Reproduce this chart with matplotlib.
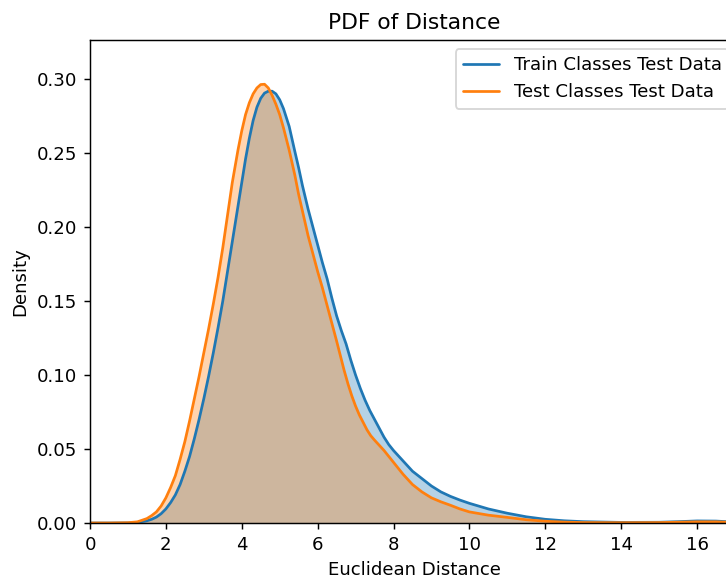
import matplotlib
matplotlib.use("Agg")
import matplotlib.pyplot as plt
import numpy as np

# Train Classes Test Data (blue)
train_x = [0.0, 0.5, 1.0, 1.25, 1.5, 1.625, 1.75, 1.875, 2.0, 2.125, 2.25, 2.375, 2.5,
           2.625, 2.75, 2.875, 3.0, 3.125, 3.25, 3.375, 3.5, 3.625, 3.75, 3.9, 4.0,
           4.1, 4.2, 4.3, 4.4, 4.5, 4.6, 4.7, 4.8, 4.9, 5.0, 5.1, 5.25, 5.4, 5.5, 5.6,
           5.75, 5.875, 6.0, 6.125, 6.25, 6.375, 6.5, 6.625, 6.75, 6.875, 7.0, 7.125,
           7.25, 7.375, 7.5, 7.625, 7.75, 7.875, 8.0, 8.25, 8.5, 8.75, 9.0, 9.25, 9.5,
           9.75, 10.0, 10.5, 11.0, 11.5, 12.0, 12.5, 13.0, 14.0, 15.0, 15.5, 16.0,
           16.5, 17.0, 17.1]
train_y = [0.0, 0.0, 0.0001, 0.0004, 0.0015, 0.0025, 0.004, 0.0063, 0.0095, 0.0138,
           0.019, 0.026, 0.035, 0.045, 0.057, 0.070, 0.084, 0.099, 0.115, 0.132, 0.150,
           0.170, 0.190, 0.214, 0.230, 0.246, 0.260, 0.272, 0.281, 0.287, 0.2905,
           0.2918, 0.2918, 0.290, 0.286, 0.280, 0.268, 0.251, 0.240, 0.228, 0.212,
           0.200, 0.188, 0.176, 0.165, 0.152, 0.140, 0.130, 0.121, 0.110, 0.100, 0.091,
           0.083, 0.076, 0.070, 0.064, 0.058, 0.053, 0.049, 0.042, 0.035, 0.030, 0.025,
           0.021, 0.018, 0.0155, 0.0133, 0.0095, 0.0066, 0.0042, 0.0025, 0.0015,
           0.0009, 0.0004, 0.0005, 0.0009, 0.0014, 0.0013, 0.0006, 0.0005]

# Test Classes Test Data (orange)
test_x = [0.0, 0.5, 1.0, 1.25, 1.5, 1.625, 1.75, 1.875, 2.0, 2.125, 2.25, 2.375, 2.5,
          2.625, 2.75, 2.875, 3.0, 3.125, 3.25, 3.375, 3.5, 3.625, 3.75, 3.9, 4.0, 4.1,
          4.2, 4.3, 4.4, 4.5, 4.6, 4.7, 4.8, 4.9, 5.0, 5.1, 5.25, 5.4, 5.5, 5.625,
          5.75, 5.875, 6.0, 6.125, 6.25, 6.375, 6.5, 6.6, 6.7, 6.8, 6.9, 7.0, 7.1,
          7.2, 7.3, 7.4, 7.5, 7.75, 7.875, 8.0, 8.125, 8.25, 8.375, 8.5, 8.75, 9.0,
          9.25, 9.5, 9.75, 10.0, 10.5, 11.0, 11.5, 12.0, 12.5, 13.0, 14.0, 15.0,
          16.0, 16.5, 17.0, 17.1]
test_y = [0.0, 0.0, 0.0002, 0.0008, 0.003, 0.005, 0.0075, 0.0115, 0.017, 0.024, 0.032,
          0.043, 0.055, 0.069, 0.084, 0.099, 0.115, 0.131, 0.148, 0.166, 0.186, 0.208,
          0.230, 0.252, 0.265, 0.276, 0.284, 0.290, 0.294, 0.2963, 0.2965, 0.294,
          0.289, 0.283, 0.276, 0.267, 0.252, 0.235, 0.222, 0.208, 0.194, 0.182, 0.170,
          0.159, 0.147, 0.135, 0.123, 0.113, 0.103, 0.094, 0.086, 0.079, 0.073, 0.068,
          0.063, 0.059, 0.056, 0.049, 0.045, 0.041, 0.037, 0.033, 0.0295, 0.026,
          0.021, 0.017, 0.0143, 0.012, 0.0095, 0.0075, 0.0053, 0.0038, 0.0022, 0.0012,
          0.0006, 0.0003, 0.0002, 0.0003, 0.0008, 0.0008, 0.0004, 0.0003]

series = [("Train Classes Test Data", train_x, train_y, "#1f77b4"),
          ("Test Classes Test Data", test_x, test_y, "#ff7f0e")]

DPI = 130.7
fig = plt.figure(figsize=(726 / DPI, 581 / DPI), dpi=DPI)
ax = fig.add_axes([90 / 726, 58 / 581, 648 / 726, 483 / 581])

for label, xs, ys, col in series:
    ax.fill_between(xs, ys, 0, color=col, alpha=0.33, linewidth=0)
    ax.plot(xs, ys, color=col, linewidth=1.5, label=label,
            solid_joinstyle="round", solid_capstyle="round")

ax.set_xlim(0, 17.08)
ax.set_ylim(0, 0.3264)
ax.set_xticks(np.arange(0, 17, 2))
ax.set_yticks([0.0, 0.05, 0.10, 0.15, 0.20, 0.25, 0.30])
ax.yaxis.set_major_formatter(matplotlib.ticker.FormatStrFormatter("%.2f"))
ax.set_xlabel("Euclidean Distance")
ax.set_ylabel("Density")
ax.set_title("PDF of Distance")
ax.legend(loc="upper right")

fig.savefig("out.png", dpi=DPI)
